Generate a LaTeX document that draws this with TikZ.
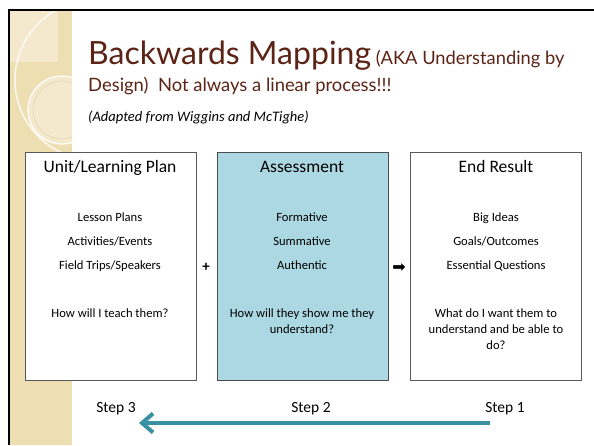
\documentclass[tikz,border=0pt]{standalone}
\usepackage{fontspec}
\setmainfont{Carlito}
\newfontfamily\titlefont{Lato}
\newfontfamily\symfont{DejaVu Sans}
\usetikzlibrary{arrows.meta}
\definecolor{slidebrown}{HTML}{5C2416}
\definecolor{stripbeige}{HTML}{EEDFB3}
\definecolor{stripLight}{HTML}{F4E9CC}
\definecolor{boxblue}{HTML}{ACD8E3}
\definecolor{arrowteal}{HTML}{3A90A3}
\tikzset{
  planbox/.style={draw=black!65,line width=0.8pt,minimum width=171pt,minimum height=228pt,inner sep=0pt},
  boxhead/.style={font=\fontsize{17.5}{20}\selectfont,anchor=base},
  boxitem/.style={font=\fontsize{12.6}{16}\selectfont,anchor=base,align=center},
  steplabel/.style={font=\fontsize{15.5}{18}\selectfont,anchor=base},
}
\begin{document}
\begin{tikzpicture}[x=1pt,y=-1pt]
\useasboundingbox (0,0) rectangle (594,445);
\fill[white] (0,0) rectangle (594,445);

\fill[stripbeige] (10,11) rectangle (72,445);
\begin{scope}
\clip (10,11) rectangle (72,445);
\fill[stripLight] (10,11) rectangle (58,62);
\fill[stripLight] (62,110) circle (34);
\draw[white,opacity=0.8,line width=1.5pt] (95,80) circle (80);
\draw[white,line width=1.2pt] (62,110) circle (34);
\draw[stripbeige!80!black,opacity=0.4,line width=0.5pt] (62,110) circle (29);
\end{scope}
\draw[line width=2pt] (9,445) -- (9,10) -- (594,10);

\node[anchor=base west,text=slidebrown,inner sep=0pt] (title) at (88,64)
  {\titlefont\fontsize{32}{36}\selectfont Backwards Mapping\fontsize{18.3}{22}\selectfont\ (AKA Understanding by};
\node[anchor=base west,text=slidebrown,inner sep=0pt] (subtitle) at (88,91)
  {\titlefont\fontsize{18.4}{22}\selectfont Design)\ \ Not always a linear process!!!};
\node[anchor=base west,inner sep=0pt,font=\fontsize{14.5}{16}\selectfont\itshape] (source) at (88,121)
  {(Adapted from Wiggins and McTighe)};

\node[planbox,fill=white,anchor=north west] (plan) at (25,152) {};
\node[planbox,fill=boxblue,draw=black!70,anchor=north west] (assess) at (217,152) {};
\node[planbox,fill=white,anchor=north west] (result) at (410,152) {};

\node[boxhead] (planhead) at (110,172) {Unit/Learning Plan};
\node[boxitem] (plan1) at (110,221) {Lesson Plans};
\node[boxitem] (plan2) at (110,245) {Activities/Events};
\node[boxitem] (plan3) at (110,269) {Field Trips/Speakers};
\node[boxitem] (planq) at (110,317) {How will I teach them?};

\node[boxhead] (assesshead) at (302,172) {Assessment};
\node[boxitem] (assess1) at (302,221) {Formative};
\node[boxitem] (assess2) at (302,245) {Summative};
\node[boxitem] (assess3) at (302,269) {Authentic};
\node[boxitem] (assessq) at (302,333) {How will they show me they\\understand?};

\node[boxhead] (resulthead) at (496,172) {End Result};
\node[boxitem] (result1) at (496,221) {Big Ideas};
\node[boxitem] (result2) at (496,245) {Goals/Outcomes};
\node[boxitem] (result3) at (496,269) {Essential Questions};
\node[boxitem] (resultq) at (496,349) {What do I want them to\\understand and be able to\\do?};

\node[font=\fontsize{15}{16}\selectfont\bfseries,inner sep=0pt] (plus) at (206,267) {+};
\node[font=\symfont\fontsize{16}{18}\selectfont,inner sep=0pt] (then) at (399,268) {➡};

\node[steplabel] (step3) at (116,412) {Step 3};
\node[steplabel] (step2) at (311,412) {Step 2};
\node[steplabel] (step1) at (505,412) {Step 1};

\coordinate (arrowR) at (490,423);
\coordinate (arrowL) at (139,423);
\draw[arrowteal,line width=4pt,-{Straight Barb[length=11pt,width=19pt]}] (arrowR) -- (arrowL);
\end{tikzpicture}
\end{document}
